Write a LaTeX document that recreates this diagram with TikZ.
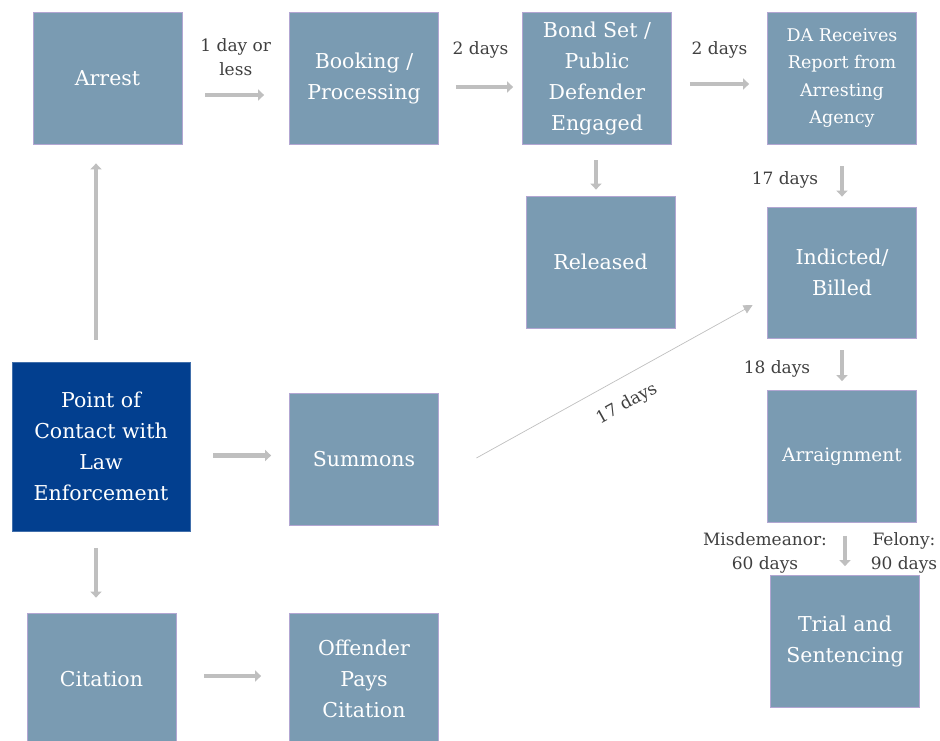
\documentclass[tikz,border=0pt]{standalone}
\usepackage{fontspec}
\setmainfont{DejaVu Serif}
\usetikzlibrary{arrows.meta}
\definecolor{boxblue}{HTML}{7A9BB2}
\definecolor{boxedge}{HTML}{B2A6D2}
\definecolor{contactblue}{HTML}{023F8F}
\definecolor{flowgray}{HTML}{BFBFBF}
\definecolor{labelgray}{HTML}{3F3F3F}

\begin{document}
\begin{tikzpicture}[x=1pt, y=-1pt, box/.style={rectangle, fill=boxblue, draw=boxedge, line width=0.8pt, minimum width=149pt, minimum height=132pt, inner sep=0pt, align=center, text=white, font=\fontsize{20.5}{31}\selectfont}, contact/.style={box, fill=contactblue, draw=contactblue!75!white, minimum width=178pt, minimum height=169pt}, flow/.style={draw=flowgray, line width=4.5pt, -{Triangle[length=6pt, width=11pt]}}, thinflow/.style={draw=flowgray, line width=0.7pt, -{Triangle[length=9pt, width=9pt]}}, days/.style={text=labelgray, font=\fontsize{17}{24}\selectfont, align=center, inner sep=0pt}]
		\useasboundingbox (0,0) rectangle (940,740);
		\node[box] (arrest) at (107.5,78) {Arrest};
		\node[box] (booking) at (364,78) {Booking /\\Processing};
		\node[box] (bond) at (597,78) {Bond Set /\\Public\\Defender\\Engaged};
		\node[box, font=\fontsize{17.5}{27.5}\selectfont] (da) at (842,78) {DA Receives\\Report from\\Arresting\\Agency};
		\node[box] (released) at (600.5,262) {Released};
		\node[box, minimum height=131pt] (indicted) at (842,272.5) {Indicted/\\Billed};
		\node[contact] (contact) at (101,446.5) {Point of\\Contact with\\Law\\Enforcement};
		\node[box] (summons) at (364,459.5) {Summons};
		\node[box, font=\fontsize{18.5}{31}\selectfont] (arraignment) at (842,456.5) {Arraignment};
		\node[box] (citation) at (101.5,679) {Citation};
		\node[box] (offender) at (364,679) {Offender\\Pays\\Citation};
		\node[box] (trial) at (845,641.5) {Trial and\\Sentencing};
		\draw[flow, shorten <=23pt, shorten >=25pt] ([yshift=-17pt]arrest.east) -- node[days, yshift=38pt] {1 day or\\less} ([yshift=-17pt]arrest.east -| booking.west);
		\draw[flow, shorten <=17pt, shorten >=9pt] ([yshift=-9pt]booking.east) -- node[days, yshift=37pt] {2 days} ([yshift=-9pt]booking.east -| bond.west);
		\draw[flow, shorten <=18pt, shorten >=18pt] ([yshift=-6pt]bond.east) -- node[days, yshift=34pt] {2 days} ([yshift=-6pt]bond.east -| da.west);
		\draw[flow, shorten <=16pt, shorten >=6pt] ([xshift=-1pt]bond.south) -- ([xshift=-1pt]bond.south |- released.north);
		\draw[flow, shorten <=22pt, shorten >=10pt] (da.south) -- node[days, xshift=-57pt, yshift=-4.5pt] {17 days} (indicted.north);
		\draw[flow, shorten <=12pt, shorten >=9pt] (indicted.south) -- node[days, xshift=-65pt, yshift=-4.5pt] {18 days} (arraignment.north);
		\draw[flow, shorten <=13pt, shorten >=9pt] (trial.north |- arraignment.south) -- node[days, xshift=-80pt, yshift=-4pt] {Misdemeanor:\\60 days} node[days, xshift=59pt, yshift=-4pt] {Felony:\\90 days} (trial.north);
		\draw[thinflow] ([xshift=37.5pt, yshift=1.5pt]summons.east) -- node[days, sloped, below=17pt] {17 days} ([xshift=-14.5pt, yshift=-32.5pt]indicted.west);
		\draw[flow, shorten <=22pt, shorten >=19pt] ([xshift=-5pt]contact.north) -- ([xshift=-5pt]contact.north |- arrest.south);
		\draw[flow, shorten <=23pt, shorten >=18pt] ([yshift=-9pt]contact.east) -- ([yshift=-9pt]contact.east -| summons.west);
		\draw[flow, shorten <=17pt, shorten >=15pt] ([xshift=-5pt]contact.south) -- ([xshift=-5pt]contact.south |- citation.north);
		\draw[flow, shorten <=28pt, shorten >=28pt] ([yshift=3pt]citation.east) -- ([yshift=3pt]citation.east -| offender.west);
	\end{tikzpicture}
\end{document}
